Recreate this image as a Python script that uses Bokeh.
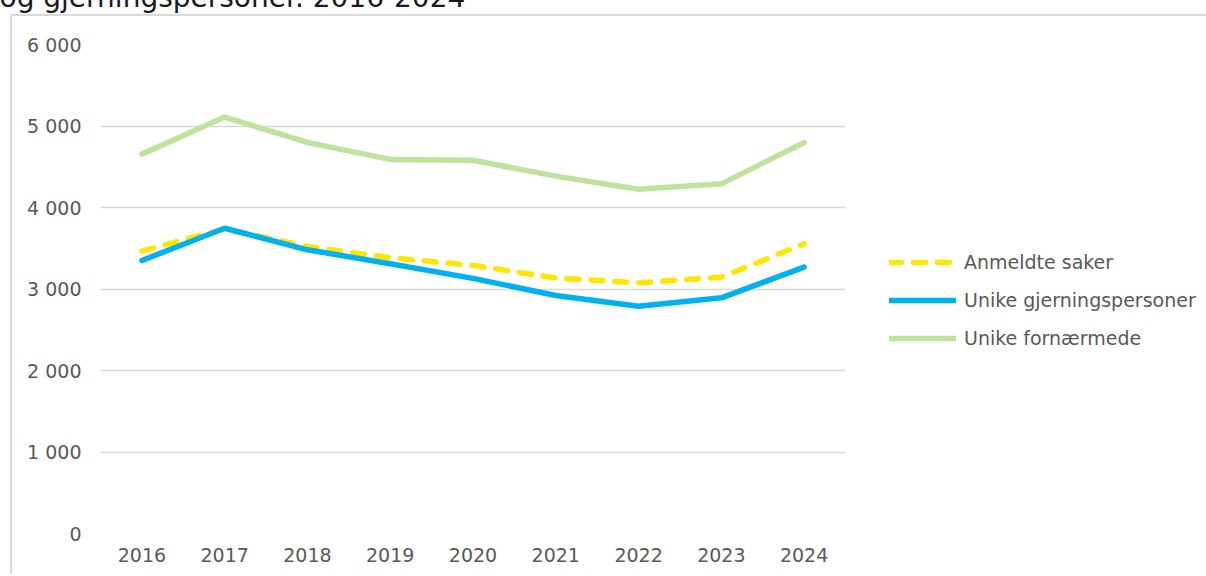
from bokeh.plotting import figure
from bokeh.models import Range1d, FixedTicker, Legend, LegendItem
from bokeh.embed import file_html
from bokeh.resources import INLINE

title_text = "og gjerningspersoner. 2016-2024"
years = [2016, 2017, 2018, 2019, 2020, 2021, 2022, 2023, 2024]
year_labels = ["2016", "2017", "2018", "2019", "2020", "2021", "2022", "2023", "2024"]
anmeldte_saker = [3464, 3740, 3521, 3384, 3290, 3135, 3076, 3145, 3555]
unike_gjerningspersoner = [3350, 3745, 3481, 3310, 3130, 2920, 2789, 2892, 3268]
unike_fornaermede = [4655, 5110, 4798, 4590, 4580, 4385, 4225, 4290, 4798]
series_names = ["Anmeldte saker", "Unike gjerningspersoner", "Unike fornærmede"]
y_ticks = [0, 1000, 2000, 3000, 4000, 5000, 6000]
y_tick_labels = ["0", "1 000", "2 000", "3 000", "4 000", "5 000", "6 000"]

FONT = "DejaVu Sans"
TXT = "#595959"
TOP = 60            # canvas starts this far above the window (title is cut off there)
W = 1206
LEFT = 100          # plot area left edge
PLOT_W = 745        # width of the area holding the nine years
FRAME_TOP = 44
FRAME_H = 489
BOTTOM = 41

x_start = years[0] - 0.5
x_end = x_start + len(years) * (W - LEFT) / PLOT_W   # frame continues under the legend
x_data_end = years[-1] + 0.5

border_bg = (f"linear-gradient(#D9D9D9,#D9D9D9) 10px {14 + TOP}px / 100% 2px no-repeat, "
             f"linear-gradient(#D9D9D9,#D9D9D9) 10px {14 + TOP}px / 2px 100% no-repeat")

p = figure(
    x_range=Range1d(x_start, x_end),
    y_range=Range1d(0, 6000),
    width=W, height=TOP + FRAME_TOP + FRAME_H + BOTTOM,
    min_border_left=LEFT, min_border_right=0,
    min_border_top=TOP + FRAME_TOP, min_border_bottom=BOTTOM,
    output_backend="svg", toolbar_location=None,
    margin=(-TOP, 0, 0, 0),
    styles={"background": border_bg},
)
p.outline_line_color = None
p.background_fill_color = "white"
p.background_fill_alpha = 0
p.border_fill_color = None

p.title.text = title_text
p.title.text_font = FONT
p.title.text_font_size = "28px"
p.title.text_font_style = "normal"
p.title.text_color = "#1A1A1A"
p.title.align = "left"
p.title.offset = -101
p.title.standoff = 62
p.title.vertical_align = "bottom"

# x axis
p.xaxis.ticker = FixedTicker(ticks=years)
p.xaxis.major_label_overrides = {y: l for y, l in zip(years, year_labels)}
p.xaxis.bounds = (x_start, x_data_end)
p.xaxis.axis_line_color = None
p.xaxis.major_tick_line_color = None
p.xaxis.minor_tick_line_color = None
p.xaxis.major_tick_out = 0
p.xaxis.major_tick_in = 0
p.xaxis.major_label_standoff = 14
p.xaxis.major_label_text_font = FONT
p.xaxis.major_label_text_font_size = "19px"
p.xaxis.major_label_text_color = TXT

# y axis
p.yaxis.ticker = FixedTicker(ticks=y_ticks)
p.yaxis.major_label_overrides = {t: l for t, l in zip(y_ticks, y_tick_labels)}
p.yaxis.axis_line_color = None
p.yaxis.major_tick_line_color = None
p.yaxis.minor_tick_line_color = None
p.yaxis.major_tick_out = 0
p.yaxis.major_tick_in = 0
p.yaxis.major_label_standoff = 19
p.yaxis.major_label_text_font = FONT
p.yaxis.major_label_text_font_size = "19px"
p.yaxis.major_label_text_color = TXT

p.xgrid.grid_line_color = None
p.ygrid.ticker = FixedTicker(ticks=y_ticks)
p.ygrid.cross_bounds = (x_start, x_data_end)
p.ygrid.grid_line_color = "#D9D9D9"
p.ygrid.grid_line_width = 1.6

r1 = p.line(years, anmeldte_saker, line_color="#FFE600", line_width=5.5,
            line_dash="12 12", line_cap="round", line_join="round")
r2 = p.line(years, unike_gjerningspersoner, line_color="#00B0F0", line_width=5.5,
            line_cap="round", line_join="round")
r3 = p.line(years, unike_fornaermede, line_color="#BFE39C", line_width=5.5,
            line_cap="round", line_join="round")

legend = Legend(
    items=[LegendItem(label=series_names[0], renderers=[r1]),
           LegendItem(label=series_names[1], renderers=[r2]),
           LegendItem(label=series_names[2], renderers=[r3])],
    location=(789, 176),
    padding=0, margin=0, spacing=0,
    glyph_width=67, glyph_height=38, label_height=38,
    label_standoff=8,
    label_text_font=FONT, label_text_font_size="19px", label_text_color=TXT,
    border_line_color=None, background_fill_alpha=0,
)
p.add_layout(legend, "center")

open("out.html", "w").write(file_html(p, INLINE))
